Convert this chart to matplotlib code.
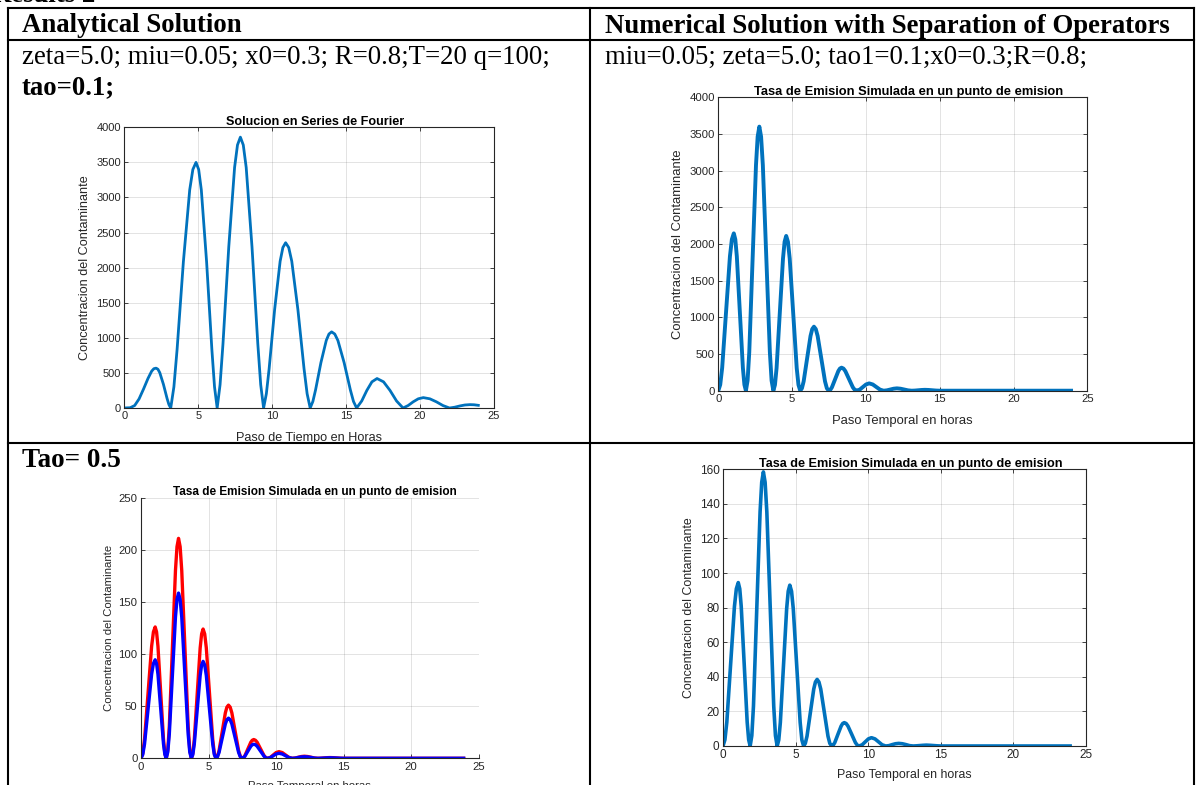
import matplotlib
matplotlib.use("Agg")
import matplotlib.pyplot as plt
from matplotlib.lines import Line2D
from matplotlib.patches import Rectangle

# ---- data ----
# analytical (Fourier series) solution, tao=0.1
t_fourier = [0, 0.4, 0.7, 1.0, 1.3, 1.6, 1.85, 2.0, 2.15, 2.274, 2.398, 2.645, 2.893, 3.016, 3.14,
             3.354, 3.568, 3.995, 4.423, 4.636, 4.85, 5.029, 5.208, 5.565, 5.923, 6.101, 6.28,
             6.476, 6.673, 7.065, 7.458, 7.654, 7.85, 8.046, 8.243, 8.635, 9.028, 9.224, 9.42,
             9.606, 9.793, 10.165, 10.538, 10.724, 10.91, 11.118, 11.325, 11.74, 12.155, 12.363, 12.57,
             12.751, 12.933, 13.295, 13.658, 13.839, 14.02, 14.231, 14.443, 14.865, 15.288, 15.499, 15.71,
             16.055, 16.4, 16.745, 17.09, 17.53, 17.97, 18.41, 18.85,
             19.193, 19.535, 19.878, 20.22, 20.663, 21.105, 21.548, 21.99,
             22.338, 22.685, 23.033, 23.38, 23.65, 23.94]
c_fourier = [0, 4, 35, 130, 270, 420, 525, 560, 568, 552, 504, 338, 135, 49, 0,
             301, 830, 2083, 3108, 3399, 3500, 3399, 3108, 2083, 830, 301, 0,
             332, 915, 2297, 3428, 3748, 3860, 3748, 3428, 2297, 915, 332, 0,
             203, 558, 1401, 2091, 2287, 2355, 2287, 2091, 1401, 558, 203, 0,
             93, 257, 646, 963, 1054, 1085, 1054, 963, 646, 257, 93, 0,
             100, 250, 373, 420, 373, 250, 100, 0,
             35, 88, 131, 148, 131, 88, 35, 0,
             11, 29, 43, 48, 46, 38]

# time axis of the simulated (operator splitting) runs
t_num = [0, 0.131, 0.263, 0.525, 0.788, 0.919, 1.05, 1.153, 1.255, 1.46, 1.665, 1.768, 1.87,
         1.984, 2.098, 2.325, 2.553, 2.666, 2.78, 2.899, 3.018, 3.255, 3.493, 3.611, 3.73,
         3.839, 3.948, 4.165, 4.383, 4.491, 4.6, 4.719, 4.838, 5.075, 5.313, 5.431, 5.55,
         5.666, 5.783, 6.015, 6.248, 6.364, 6.48, 6.605, 6.73, 6.98, 7.23, 7.355, 7.48,
         7.589, 7.698, 7.915, 8.133, 8.241, 8.35, 8.478, 8.605, 8.86, 9.115, 9.243, 9.37,
         9.583, 9.795, 10.008, 10.22, 10.465, 10.71, 10.955, 11.2,
         11.425, 11.65, 11.875, 12.1, 12.35, 12.6, 12.85, 13.1,
         13.325, 13.55, 13.775, 14.0, 14.25, 14.5, 14.75, 15.0,
         17.0, 19.0, 21.0, 23.9]

# numerical, tao1=0.1
c_tau01_num = [0, 82, 313, 1073, 1832, 2063, 2145, 2063, 1832, 1073, 313, 82, 0,
               137, 526, 1800, 3074, 3463, 3600, 3463, 3074, 1800, 526, 137, 0,
               80, 308, 1055, 1802, 2030, 2110, 2030, 1802, 1055, 308, 80, 0,
               33, 127, 437, 746, 840, 873, 840, 746, 437, 127, 33, 0,
               12, 46, 157, 268, 302, 314, 302, 268, 157, 46, 12, 0,
               15, 50, 85, 100, 85, 50, 15, 0,
               5, 16, 27, 32, 27, 16, 5, 0,
               2, 6, 10, 12, 10, 6, 2, 0,
               0, 0, 0, 0]

# tao=0.5: red curve and blue curve (blue is also the right-hand plot)
c_tau05_red = [0, 4.8, 18.4, 63.0, 107.6, 121.2, 126, 121.2, 107.6, 63.0, 18.4, 4.8, 0,
               8.0, 30.8, 105.5, 180.2, 203.0, 211, 203.0, 180.2, 105.5, 30.8, 8.0, 0,
               4.7, 18.1, 62.0, 105.9, 119.3, 124, 119.3, 105.9, 62.0, 18.1, 4.7, 0,
               1.9, 7.4, 25.5, 43.6, 49.1, 51, 49.1, 43.6, 25.5, 7.4, 1.9, 0,
               0.7, 2.6, 9.0, 15.4, 17.3, 18, 17.3, 15.4, 9.0, 2.6, 0.7, 0,
               0.9, 3.2, 5.5, 6.4, 5.5, 3.2, 0.9, 0,
               0.3, 1.0, 1.7, 2.0, 1.7, 1.0, 0.3, 0,
               0.1, 0.35, 0.6, 0.7, 0.6, 0.35, 0.1, 0,
               0, 0, 0, 0]
c_tau05_blue = [0, 3.6, 13.8, 47.3, 80.7, 90.9, 94.5, 90.9, 80.7, 47.3, 13.8, 3.6, 0,
                6.0, 23.1, 79.3, 135.4, 152.5, 158.5, 152.5, 135.4, 79.3, 23.1, 6.0, 0,
                3.5, 13.6, 46.5, 79.4, 89.5, 93.0, 89.5, 79.4, 46.5, 13.6, 3.5, 0,
                1.5, 5.6, 19.3, 32.9, 37.0, 38.5, 37.0, 32.9, 19.3, 5.6, 1.5, 0,
                0.5, 2.0, 6.8, 11.5, 13.0, 13.5, 13.0, 11.5, 6.8, 2.0, 0.5, 0,
                0.7, 2.4, 4.1, 4.8, 4.1, 2.4, 0.7, 0,
                0.2, 0.8, 1.3, 1.5, 1.3, 0.8, 0.2, 0,
                0.1, 0.25, 0.4, 0.5, 0.4, 0.25, 0.1, 0,
                0, 0, 0, 0]

x_ticks = [0, 5, 10, 15, 20, 25]
y_ticks_4000 = [0, 500, 1000, 1500, 2000, 2500, 3000, 3500, 4000]
y_ticks_250 = [0, 50, 100, 150, 200, 250]
y_ticks_160 = [0, 20, 40, 60, 80, 100, 120, 140, 160]

W, H = 1197, 785
MATLAB_BLUE = "#0072BD"
DARK = "#262626"
SERIF = "Liberation Serif"
SANS = "Liberation Sans"

fig = plt.figure(figsize=(W / 100, H / 100), dpi=100)
fig.patch.set_facecolor("white")


def fx(x):
    return x / W


def fy(y):
    return 1 - y / H


def add_axes_px(left, top, right, bottom):
    return fig.add_axes([fx(left), fy(bottom), (right - left) / W, (bottom - top) / H])


def style_axes(ax, yticks, ymax, fs, box=True):
    ax.set_xlim(0, 25)
    ax.set_ylim(0, ymax)
    ax.set_xticks(x_ticks)
    ax.set_yticks(yticks)
    ax.tick_params(direction="in", length=3, width=0.6, colors=DARK, labelsize=fs,
                   top=box, right=box, pad=2.5)
    for lab in ax.get_xticklabels() + ax.get_yticklabels():
        lab.set_family(SANS)
    for side, sp in ax.spines.items():
        sp.set_color(DARK)
        sp.set_linewidth(0.8)
        if not box and side in ("top", "right"):
            sp.set_visible(False)
    ax.grid(True, color=DARK, alpha=0.15, lw=0.6)
    ax.set_axisbelow(True)


def labels(ax, title, xlabel, ylabel, fs_title, fs_label, ylab_x, xlab_y):
    # MATLAB puts the title a little right of centre
    ax.set_title(title, fontsize=fs_title, fontweight="bold", family=SANS, pad=2, x=0.516)
    ax.set_xlabel(xlabel, fontsize=fs_label, family=SANS, color=DARK, va="baseline")
    ax.xaxis.set_label_coords(0.5, xlab_y)
    ax.set_ylabel(ylabel, fontsize=fs_label, family=SANS, color=DARK, va="center")
    ax.yaxis.set_label_coords(ylab_x, 0.5)


ylab = "Concentracion del Contaminante"
title_sim = "Tasa de Emision Simulada en un punto de emision"

# top-left: Fourier series solution
ax1 = add_axes_px(124.3, 127.3, 494, 408)
style_axes(ax1, y_ticks_4000, 4000, 8.0)
ax1.plot(t_fourier, c_fourier, color=MATLAB_BLUE, lw=2.0, solid_joinstyle="round")
labels(ax1, "Solucion en Series de Fourier", "Paso de Tiempo en Horas", ylab, 9.1, 9.1,
       (84.7 - 124.3) / 369.7, -32.7 / 280.7)

# top-right: operator splitting, tao1=0.1
ax2 = add_axes_px(718.3, 97.3, 1087.3, 390.7)
style_axes(ax2, y_ticks_4000, 4000, 8.2)
ax2.plot(t_num, c_tau01_num, color=MATLAB_BLUE, lw=2.8, solid_joinstyle="round")
labels(ax2, title_sim, "Paso Temporal en horas", ylab, 9.25, 9.35,
       (678 - 718.3) / 369, -33.3 / 293.4)

# bottom-left: tao=0.5, two curves, no box
ax3 = add_axes_px(141, 497.7, 478.5, 758.3)
style_axes(ax3, y_ticks_250, 250, 8.2, box=False)
ax3.plot(t_num, c_tau05_red, color="#FF0000", lw=2.4, solid_joinstyle="round")
ax3.plot(t_num, c_tau05_blue, color="#0000FF", lw=2.4, solid_joinstyle="round")
labels(ax3, title_sim, "Paso Temporal en horas", ylab, 8.5, 8.2,
       (109.5 - 141) / 337.5, -30.4 / 260.6)

# bottom-right: tao=0.5 simulated
ax4 = add_axes_px(723, 469.3, 1086.1, 746)
style_axes(ax4, y_ticks_160, 160, 8.5)
ax4.plot(t_num, c_tau05_blue, color=MATLAB_BLUE, lw=2.6, solid_joinstyle="round")
labels(ax4, title_sim, "Paso Temporal en horas", ylab, 9.1, 8.9,
       (689.3 - 723) / 363.1, -31.7 / 276.7)

# hide the part of the first x label that falls below the row border
fig.add_artist(Rectangle((fx(10), fy(449)), fx(578), 7 / H, transform=fig.transFigure,
                         facecolor="white", edgecolor="none", zorder=5))

# table borders
TOP, HEAD, ROW = 8.2, 40, 442.7
LEFT, MID, RIGHT = 8.2, 590, 1194
border = dict(color="black", lw=1.5, transform=fig.transFigure, zorder=6,
              solid_capstyle="projecting")
for yv in (TOP, HEAD, ROW):
    fig.add_artist(Line2D([fx(LEFT), fx(RIGHT)], [fy(yv), fy(yv)], **border))
for xv in (LEFT, MID, RIGHT):
    fig.add_artist(Line2D([fx(xv), fx(xv)], [fy(TOP), fy(H + 5)], **border))

# table text
fig.text(fx(-8), fy(2.5), "Results 2", family=SERIF, fontweight="bold", fontsize=19.3,
         va="baseline")
fig.text(fx(22), fy(32.3), "Analytical Solution", family=SERIF, fontweight="bold",
         fontsize=19.3, va="baseline")
fig.text(fx(605), fy(32.7), "Numerical Solution with Separation of Operators", family=SERIF,
         fontweight="bold", fontsize=19.3, va="baseline")
fig.text(fx(22), fy(64.5), "zeta=5.0; miu=0.05; x0=0.3; R=0.8;T=20 q=100;", family=SERIF,
         fontsize=19.3, va="baseline")
fig.text(fx(22), fy(94), "tao=0.1;", family=SERIF, fontweight="bold", fontsize=19.3,
         va="baseline")
fig.text(fx(605), fy(64), "miu=0.05; zeta=5.0; tao1=0.1;x0=0.3;R=0.8;", family=SERIF,
         fontsize=19.3, va="baseline")
fig.text(fx(22), fy(467), "Tao= 0.5", family=SERIF, fontweight="bold", fontsize=19.5,
         va="baseline")

fig.savefig("out.png", dpi=100, facecolor="white")
